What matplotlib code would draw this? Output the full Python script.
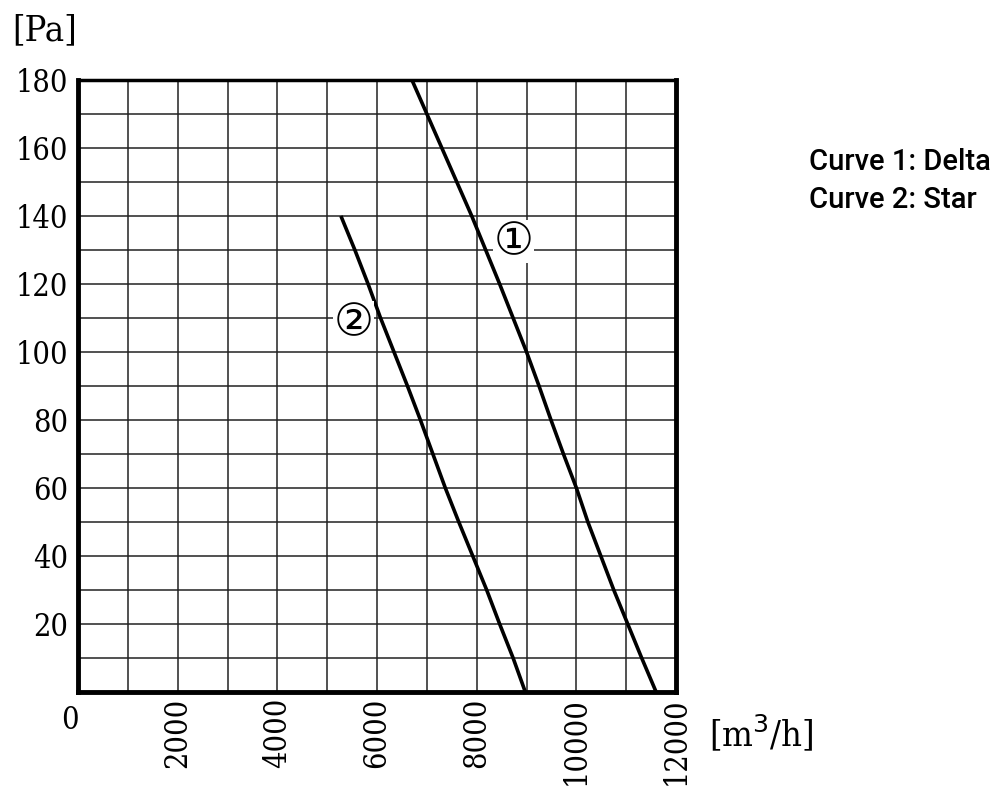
"""
Fan curve chart, pressure vs air flow
"""
import matplotlib
matplotlib.use('Agg')
import matplotlib.pyplot as plt

# curve 1 (delta)
pa_delta = [180, 170, 160, 150, 140, 130, 120, 110, 100, 90, 80, 70, 60, 50, 40, 30, 20, 10, 0]
flow_delta = [6700, 7000, 7300, 7600, 7900, 8180, 8460, 8730, 9000, 9250, 9490, 9740,
              10000, 10230, 10490, 10750, 11030, 11310, 11600]

# curve 2 (star)
pa_star = [140, 130, 120, 110, 100, 90, 80, 70, 60, 50, 40, 30, 20, 10, 0]
flow_star = [5275, 5555, 5820, 6070, 6340, 6610, 6870, 7120, 7370, 7640, 7920, 8200,
             8460, 8730, 8975]

x_ticks = [2000, 4000, 6000, 8000, 10000, 12000]
y_ticks = [20, 40, 60, 80, 100, 120, 140, 160, 180]
legend_lines = ['Curve 1: Delta', 'Curve 2: Star']

SERIF = ['DejaVu Serif', 'Liberation Serif']
TICK_SIZE = 22

fig = plt.figure(figsize=(10.08, 7.91), dpi=100)
ax = fig.add_axes([0.0774, 0.1252, 0.5933, 0.7737])

ax.set_xlim(0, 12000)
ax.set_ylim(0, 180)

# grid
for gx in range(1000, 12000, 1000):
    ax.axvline(gx, color='#222222', lw=1.1, zorder=1)
for gy in range(10, 180, 10):
    ax.axhline(gy, color='#222222', lw=1.1, zorder=1)

ax.plot(flow_delta, pa_delta, color='black', lw=2.6, zorder=3, solid_capstyle='butt')
ax.plot(flow_star, pa_star, color='black', lw=2.6, zorder=3, solid_capstyle='butt')

ax.text(8740, 132.5, '\u2460', fontsize=32, ha='center', va='center',
        family=['DejaVu Sans'], zorder=4,
        bbox=dict(facecolor='white', edgecolor='none', pad=0.2))
ax.text(5520, 108.5, '\u2461', fontsize=32, ha='center', va='center',
        family=['DejaVu Sans'], zorder=4,
        bbox=dict(facecolor='white', edgecolor='none', pad=0.2))

for side in ['left', 'bottom', 'right']:
    ax.spines[side].set_linewidth(3.5)
ax.spines['top'].set_linewidth(2.5)

ax.set_xticks(x_ticks)
ax.set_yticks(y_ticks)
ax.tick_params(axis='y', length=0, pad=7)
ax.tick_params(axis='x', length=0, pad=4)
ax.set_xticklabels([str(v) for v in x_ticks], rotation=90, va='top',
                   fontsize=TICK_SIZE, family=SERIF, fontstretch='condensed')
ax.set_yticklabels([str(v) for v in y_ticks], fontsize=TICK_SIZE, family=SERIF,
                   fontstretch='condensed')

ax.text(-0.013, -0.047, '0', transform=ax.transAxes, ha='center', va='center',
        fontsize=TICK_SIZE, family=SERIF, fontstretch='condensed')
fig.text(0.012, 0.962, '[Pa]', ha='left', va='center', fontsize=26, family=SERIF,
         fontstretch='condensed')
fig.text(0.703, 0.073, '[m$^3$/h]', ha='left', va='center', fontsize=26,
         family=SERIF, fontstretch='condensed')

fig.text(0.803, 0.795, legend_lines[0], ha='left', va='center', fontsize=21,
         family=['Roboto'], weight='medium')
fig.text(0.803, 0.747, legend_lines[1], ha='left', va='center', fontsize=21,
         family=['Roboto'], weight='medium')

fig.savefig('out.png', dpi=100)
